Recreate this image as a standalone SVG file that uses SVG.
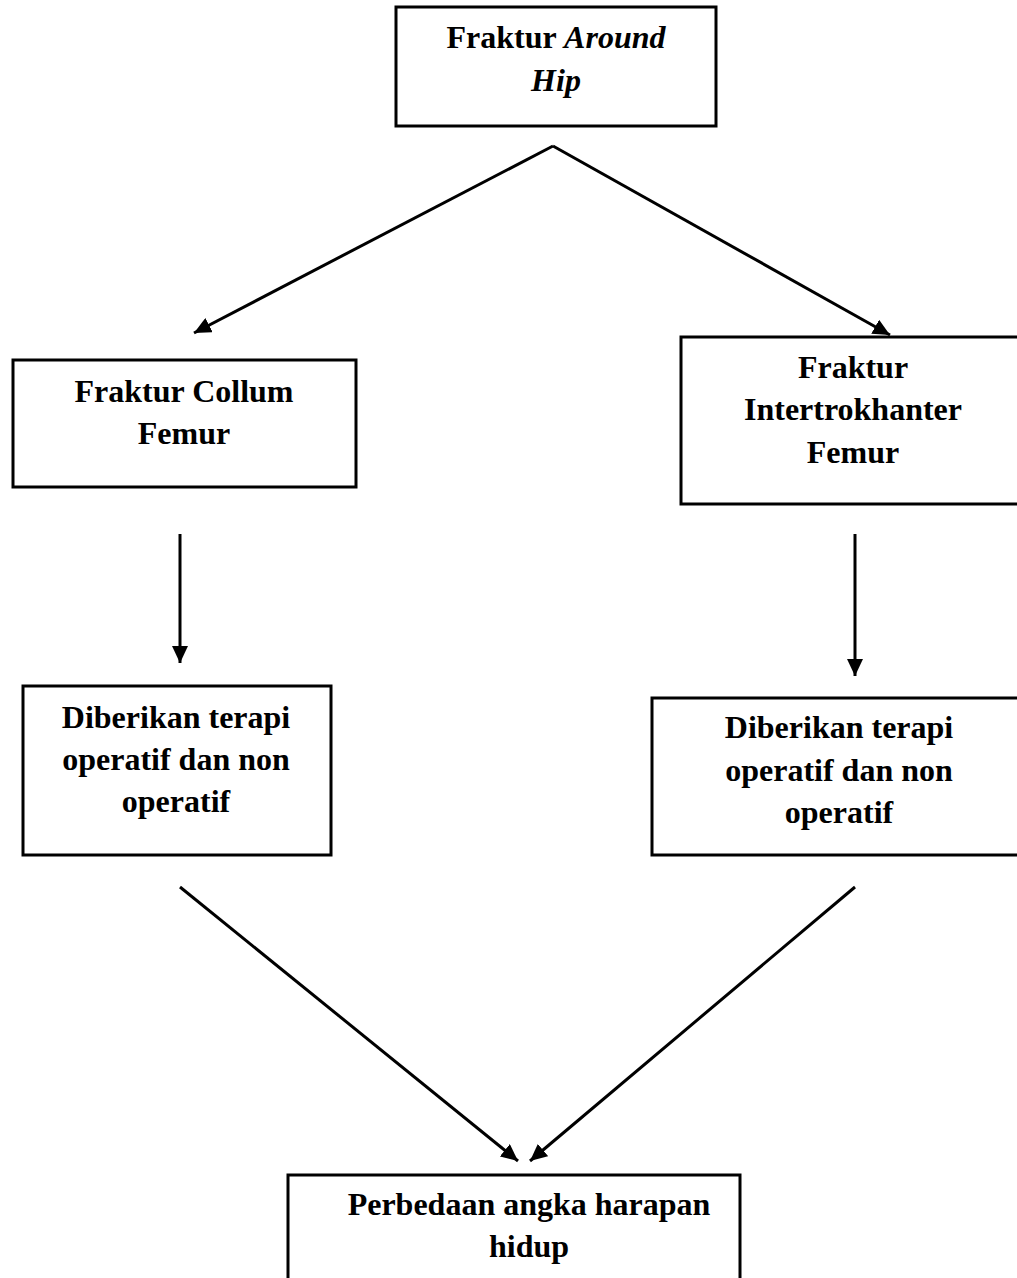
<svg xmlns="http://www.w3.org/2000/svg" width="1017" height="1278" viewBox="0 0 1017 1278">
<defs>
<style>
.box{fill:#fff;stroke:#000;stroke-width:3}
.t{font-family:"Liberation Serif","Times New Roman",serif;font-weight:bold;font-size:32px;fill:#000;text-anchor:middle}
.i{font-style:italic}
.c{fill:none;stroke:#000;stroke-width:3;stroke-linejoin:miter}
</style>
<marker id="ah" markerUnits="userSpaceOnUse" markerWidth="18" markerHeight="16" refX="17" refY="8" orient="auto">
<path d="M0,0 L17,8 L0,16 Z" fill="#000"/>
</marker>
</defs>
<rect width="1017" height="1278" fill="#fff"/>
<g id="connectors">
<line class="c" x1="553" y1="146" x2="194" y2="333" marker-end="url(#ah)"/>
<line class="c" x1="553" y1="146" x2="890" y2="335" marker-end="url(#ah)"/>
<line class="c" x1="180" y1="534" x2="180" y2="663" marker-end="url(#ah)"/>
<line class="c" x1="855" y1="534" x2="855" y2="676" marker-end="url(#ah)"/>
<line class="c" x1="180" y1="887" x2="518" y2="1161" marker-end="url(#ah)"/>
<line class="c" x1="855" y1="887" x2="530" y2="1161" marker-end="url(#ah)"/>
</g>
<g id="node-around-hip">
<rect class="box" x="396" y="7" width="320" height="119"/>
<text class="t" x="556" y="48">Fraktur <tspan class="i">Around</tspan></text>
<text class="t i" x="556" y="91">Hip</text>
</g>
<g id="node-collum">
<rect class="box" x="13" y="360" width="343" height="127"/>
<text class="t" x="184" y="402">Fraktur Collum</text>
<text class="t" x="184" y="444">Femur</text>
</g>
<g id="node-intertrokhanter">
<rect class="box" x="681" y="337" width="360" height="167"/>
<text class="t" x="853" y="378">Fraktur</text>
<text class="t" x="853" y="420">Intertrokhanter</text>
<text class="t" x="853" y="463">Femur</text>
</g>
<g id="node-terapi-left">
<rect class="box" x="23" y="686" width="308" height="169"/>
<text class="t" x="176" y="728">Diberikan terapi</text>
<text class="t" x="176" y="770">operatif dan non</text>
<text class="t" x="176" y="812">operatif</text>
</g>
<g id="node-terapi-right">
<rect class="box" x="652" y="698" width="390" height="157"/>
<text class="t" x="839" y="738">Diberikan terapi</text>
<text class="t" x="839" y="781">operatif dan non</text>
<text class="t" x="839" y="823">operatif</text>
</g>
<g id="node-harapan">
<rect class="box" x="288" y="1175" width="452" height="120"/>
<text class="t" x="529" y="1215">Perbedaan angka harapan</text>
<text class="t" x="529" y="1257">hidup</text>
</g>
</svg>
